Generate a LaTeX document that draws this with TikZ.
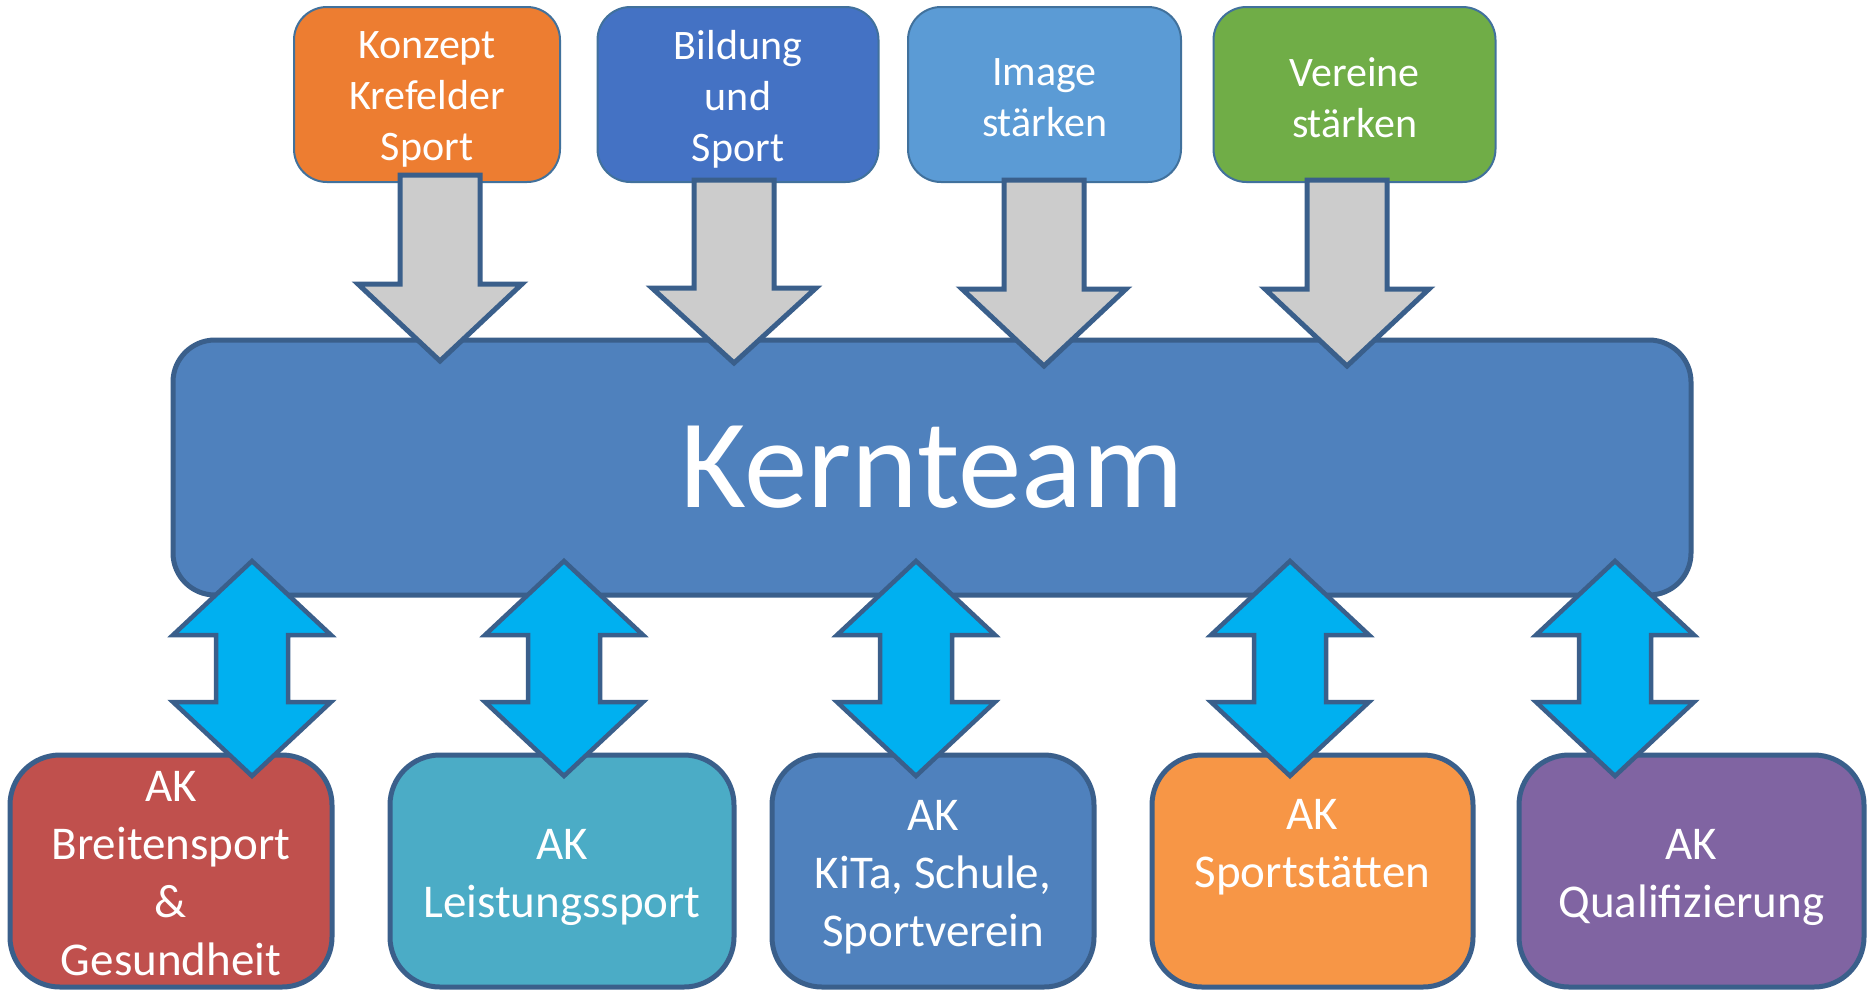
\documentclass[tikz,border=0pt]{standalone}
\usepackage{fontspec}
\setmainfont{Carlito}
\definecolor{konzeptc}{HTML}{ED7D31}
\definecolor{bildungc}{HTML}{4472C4}
\definecolor{imagec}{HTML}{5B9BD5}
\definecolor{vereinec}{HTML}{70AD47}
\definecolor{topline}{HTML}{41719C}
\definecolor{darkline}{HTML}{3A5F8B}
\definecolor{kernc}{HTML}{4F81BD}
\definecolor{grayc}{HTML}{CCCCCC}
\definecolor{cyanc}{HTML}{00B0F0}
\definecolor{akred}{HTML}{C0504D}
\definecolor{akteal}{HTML}{4BACC6}
\definecolor{akblue}{HTML}{4F81BD}
\definecolor{akorange}{HTML}{F79646}
\definecolor{akpurple}{HTML}{8064A2}
\tikzset{
  topbox/.style={draw=topline, line width=2pt, rounded corners=33pt, inner sep=0pt},
  toptext/.style={text=white, font=\fontsize{42}{51}\selectfont, align=center, inner sep=0pt},
  kernbox/.style={draw=darkline, fill=kernc, line width=5pt, rounded corners=42pt,
    text=white, font=\fontsize{127}{150}\selectfont, inner sep=0pt},
  akbox/.style={draw=darkline, line width=5pt, rounded corners=50pt, inner sep=0pt},
  aktext/.style={text=white, font=\fontsize{47}{58}\selectfont, align=center, inner sep=0pt},
  garrow/.style={draw=darkline, fill=grayc, line width=5pt, line join=miter},
  barrow/.style={draw=darkline, fill=cyanc, line width=4.5pt, line join=miter}
}
\newcommand\grayblock[4]{%
  \draw[garrow] (#1-40,#2) -- (#1+40,#2) -- (#1+40,#3) -- (#1+82,#3) -- (#1,#4)
    -- (#1-82,#3) -- (#1-40,#3) -- cycle;}
\newcommand\dblblock[1]{%
  \draw[barrow] (#1,561) -- (#1+79,635) -- (#1+36,635) -- (#1+36,702) -- (#1+79,702)
    -- (#1,776) -- (#1-79,702) -- (#1-36,702) -- (#1-36,635) -- (#1-79,635) -- cycle;}
\begin{document}
\begin{tikzpicture}[x=1pt,y=-1pt]
\useasboundingbox (0,0) rectangle (1868,989);
\fill[white] (0,0) rectangle (1868,989);
\clip (0,0) rectangle (1868,989);
% top boxes
\node[topbox, fill=konzeptc, minimum width=266pt, minimum height=175pt] (konzept) at (427,94.5) {};
\node[topbox, fill=bildungc, minimum width=281pt, minimum height=175pt] (bildung) at (738,94.5) {};
\node[topbox, fill=imagec, minimum width=273pt, minimum height=175pt] (image) at (1044.5,94.5) {};
\node[topbox, fill=vereinec, minimum width=282pt, minimum height=175pt] (vereine) at (1354.5,94.5) {};
\node[toptext] (konzept-t) at ([yshift=-5pt]konzept.center) {Konzept\\Krefelder\\Sport};
\node[toptext] (bildung-t) at ([yshift=-5pt]bildung.center) {Bildung\\und\\Sport};
\node[toptext] (image-t) at ([yshift=-3pt]image.center) {Image\\stärken};
\node[toptext] (vereine-t) at ([yshift=-3pt]vereine.center) {Vereine\\stärken};
% core team
\node[kernbox, minimum width=1518pt, minimum height=255pt] (kern) at (932,467.5) {Kernteam};
% gray arrows
\grayblock{440}{175}{284}{361}
\grayblock{734}{180}{288}{363}
\grayblock{1044}{180}{289}{366}
\grayblock{1347}{180}{289}{366}
% AK boxes
\node[akbox, fill=akred, minimum width=322pt, minimum height=232pt] (ak1) at (171,871) {};
\node[akbox, fill=akteal, minimum width=344pt, minimum height=232pt] (ak2) at (562,871) {};
\node[akbox, fill=akblue, minimum width=322pt, minimum height=232pt] (ak3) at (933,871) {};
\node[akbox, fill=akorange, minimum width=321pt, minimum height=232pt] (ak4) at (1312.5,871) {};
\node[akbox, fill=akpurple, minimum width=345pt, minimum height=232pt] (ak5) at (1691.5,871) {};
\node[aktext] (ak1-t) at ([yshift=-3pt]ak1.center) {AK\\Breitensport\\\&\\Gesundheit};
\node[aktext] (ak2-t) at ([yshift=-6.5pt]ak2.center) {AK\\Leistungssport};
\node[aktext] (ak3-t) at ([yshift=-6pt]ak3.center) {AK\\KiTa, Schule,\\Sportverein};
\node[aktext] (ak4-t) at ([yshift=-1pt]ak4.center) {AK\\Sportstätten\\\mbox{}};
\node[aktext] (ak5-t) at ([yshift=-6.5pt]ak5.center) {AK\\Qualifizierung};
% double arrows
\dblblock{252}
\dblblock{564}
\dblblock{916}
\dblblock{1290}
\dblblock{1615}
\end{tikzpicture}
\end{document}
